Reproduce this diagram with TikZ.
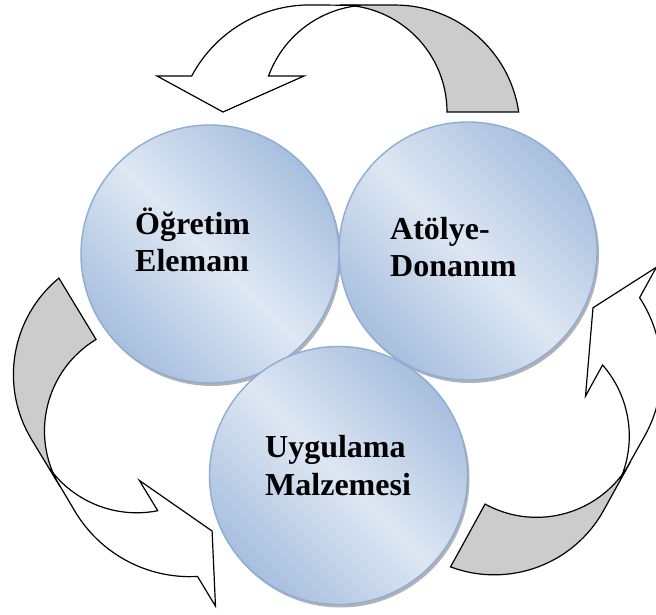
\documentclass[tikz,border=0pt]{standalone}
\usepackage{fontspec}
\setmainfont{Liberation Serif}

\definecolor{ballEdge}{RGB}{167,191,222}
\definecolor{ballMid}{RGB}{222,231,243}
\definecolor{ballLine}{RGB}{141,172,214}
\definecolor{tailGray}{RGB}{204,204,204}

\tikzset{
  ball/.style={circle, minimum size=258pt, inner sep=0pt, draw=ballLine, line width=1.4pt,
    top color=ballEdge, bottom color=ballEdge, middle color=ballMid, shading angle=-45},
  ballshadow/.style={fill=black!30},
  front/.style={fill=white, draw=black, line width=1.2pt},
  back/.style={fill=tailGray, draw=black, line width=1.2pt},
  lbl/.style={font=\bfseries\fontsize{32}{37}\selectfont, inner sep=0pt, anchor=base west}
}

\begin{document}
\begin{tikzpicture}[x=1pt, y=1pt]
    \useasboundingbox (0,0) rectangle (656,614);

    % top arrow
    \filldraw[back] (447,502) -- (518.7,502) arc[start angle=8.3, end angle=90, radius=125]
      -- (340,609) arc[start angle=90, end angle=0, radius=107] -- cycle;
    \filldraw[front] (157,538) -- (191.7,538) arc[start angle=152, end angle=90, radius=134]
      -- (360.6,608.6) arc[start angle=95, end angle=160, radius=108]
      -- (304,538) -- (223,502) -- cycle;

    % left arrow
    \begin{scope}[rotate around={121.2:(335.6,289.4)}]
      \filldraw[back] (447,502) -- (518.7,502) arc[start angle=8.3, end angle=90, radius=125]
        -- (340,609) arc[start angle=90, end angle=0, radius=107] -- cycle;
      \filldraw[front] (157,538) -- (191.7,538) arc[start angle=152, end angle=90, radius=134]
        -- (360.6,608.6) arc[start angle=95, end angle=160, radius=108]
        -- (304,538) -- (223,502) -- cycle;
    \end{scope}

    % right arrow
    \begin{scope}[rotate around={241.2:(350.1,294.7)}]
      \filldraw[back] (447,502) -- (518.7,502) arc[start angle=8.3, end angle=90, radius=125]
        -- (340,609) arc[start angle=90, end angle=0, radius=107] -- cycle;
      \filldraw[front] (157,538) -- (191.7,538) arc[start angle=152, end angle=90, radius=134]
        -- (360.6,608.6) arc[start angle=95, end angle=160, radius=108]
        -- (304,538) -- (223,502) -- cycle;
    \end{scope}

    % the three balls
    \coordinate (cL) at (210,360);
    \coordinate (cR) at (468,363);
    \coordinate (cB) at (338.5,138.5);
    \fill[ballshadow] ([shift={(2,-3)}]cL) circle (129);
    \node[ball] (ogr) at (cL) {};
    \fill[ballshadow] ([shift={(2,-3)}]cR) circle (129);
    \node[ball] (atl) at (cR) {};
    \fill[ballshadow] ([shift={(2,-3)}]cB) circle (129);
    \node[ball] (uyg) at (cB) {};

    \node[lbl] (ogretim) at (135,379) {Öğretim};
    \node[lbl] (eleman) at (135,342) {Elemanı};
    \node[lbl] (atolye) at (390,374) {Atölye-};
    \node[lbl] (donanim) at (390,337) {Donanım};
    \node[lbl] (uygulama) at (265,157) {Uygulama};
    \node[lbl] (malzeme) at (265,119) {Malzemesi};
\end{tikzpicture}
\end{document}
